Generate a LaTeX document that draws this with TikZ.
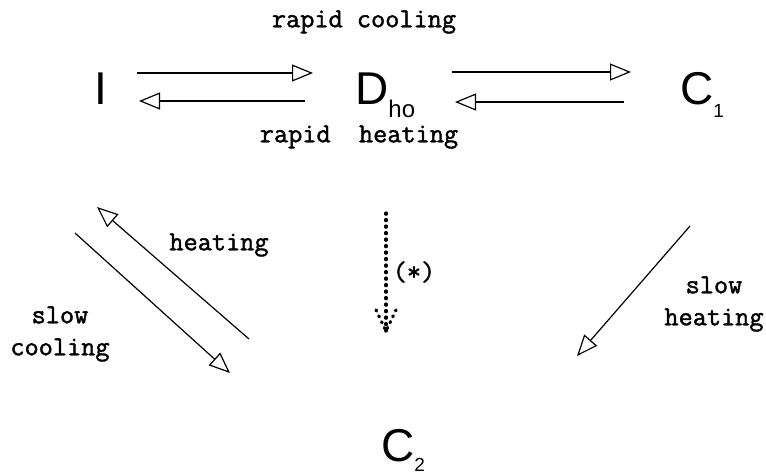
\documentclass[tikz,border=0pt]{standalone}
\usepackage{fontspec}
\usetikzlibrary{arrows.meta}
\newfontfamily\bigfont{Liberation Sans}
\newfontfamily\labfont[FakeBold=1.5]{Latin Modern Mono}
\tikzset{
  species/.style={inner sep=0pt, font=\bigfont\fontsize{46}{46}\selectfont, anchor=base west},
  lab/.style={inner sep=0pt, font=\labfont\fontsize{27.5}{28}\selectfont, align=center},
  oa/.style={line width=1.2pt, -{Triangle[open, length=21pt, width=17pt, line width=1.2pt]}},
  dots/.style={line width=3.2pt, line cap=round, dash pattern=on 1.2pt off 5.3pt},
}
\begin{document}
\begin{tikzpicture}[x=1pt,y=-1pt]
\useasboundingbox (0,0) rectangle (766,475);
% species
\node[species] (I) at (94,104) {I};
\node[species] (D) at (355,104) {D\raisebox{-13pt}{\fontsize{24}{24}\selectfont ho}};
\node[species] (C1) at (680,104) {C\raisebox{-13pt}{\fontsize{19}{19}\selectfont 1}};
\node[species] (C2) at (381,461) {C\raisebox{-10pt}{\fontsize{19}{19}\selectfont 2}};
% arrow end points
\coordinate (a1s) at (137,73);  \coordinate (a1e) at (313,73);
\coordinate (a2s) at (305,101); \coordinate (a2e) at (139,101);
\coordinate (b1s) at (452,72);  \coordinate (b1e) at (631,72);
\coordinate (b2s) at (624,102); \coordinate (b2e) at (455,102);
\coordinate (hs) at (249,339);  \coordinate (he) at (97,207);
\coordinate (cs) at (75,233);   \coordinate (ce) at (230,373);
\coordinate (ds) at (386,213);  \coordinate (de) at (386,331);
\coordinate (dl) at (376,310);  \coordinate (dr) at (396,310);
\coordinate (ss) at (690,226);  \coordinate (se) at (577,356);
% arrows
\draw[oa] (a1s) -- (a1e);
\draw[oa] (a2s) -- (a2e);
\draw[oa] (b1s) -- (b1e);
\draw[oa] (b2s) -- (b2e);
\draw[oa] (hs) -- (he);
\draw[oa] (cs) -- (ce);
\draw[oa] (ss) -- (se);
\draw[dots] (ds) -- (de);
\draw[dots] (dl) -- (de) -- (dr);
% labels
\node[lab] (rc) at (364,22) {rapid cooling};
\node[lab] (rh) at (359,137) {rapid\ \ heating};
\node[lab] (lh) at (219,245) {heating};
\node[lab] (sc) at (60,334) {slow\\[4pt]cooling};
\node[lab] (st) at (414,272) {(*)};
\node[lab] (sh) at (714,304) {slow\\[4pt]heating};
\end{tikzpicture}
\end{document}
